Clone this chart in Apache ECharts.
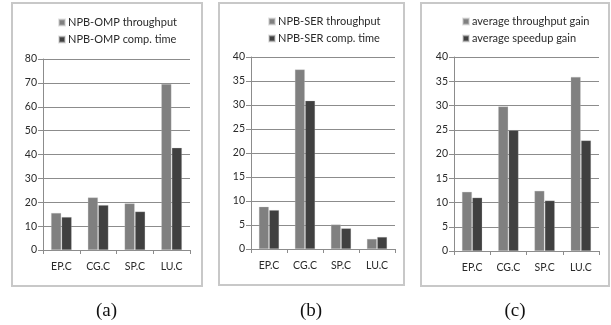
<!DOCTYPE html>
<html>
<head>
<meta charset="utf-8">
<script src="https://cdn.jsdelivr.net/npm/echarts@6/dist/echarts.min.js"></script>
<style>html,body{margin:0;padding:0;background:#fff;}#c{width:611px;height:325px;}</style>
</head>
<body>
<div id="c"></div>
<script>
const categories = ['EP.C', 'CG.C', 'SP.C', 'LU.C'];

const ompNames = ['NPB-OMP throughput', 'NPB-OMP comp. time'];
const ompThroughput = [15.5, 22.0, 19.5, 69.5];
const ompCompTime = [13.8, 18.8, 16.1, 42.8];

const serNames = ['NPB-SER throughput', 'NPB-SER comp. time'];
const serThroughput = [8.8, 37.4, 5.1, 2.1];
const serCompTime = [8.1, 30.9, 4.3, 2.5];

const avgNames = ['average throughput gain', 'average speedup gain'];
const avgThroughput = [12.2, 29.8, 12.4, 35.9];
const avgSpeedup = [11.0, 24.9, 10.4, 22.8];

const yMaxA = 80, yStepA = 10;
const yMaxB = 40, yStepB = 5;
const yMaxC = 40, yStepC = 5;
const captions = ['(a)', '(b)', '(c)'];

const LIGHT = '#808080', DARK = '#404040';
const FONT = 'Lato';
const TXT = '#2a2a2a';

const grids = [
  {left: 43, top: 59, width: 147, height: 191},
  {left: 251, top: 57, width: 144, height: 192},
  {left: 454, top: 57, width: 145, height: 194}
];
const legendPos = [{left: 53, top: 12}, {left: 263, top: 11}, {left: 457, top: 11}];
const frames = [[12, 3, 190, 283], [219, 3, 185, 282], [421, 3, 188, 283]];
const captionX = [106.5, 311, 515];

const chart = echarts.init(document.getElementById('c'), null, {renderer: 'canvas'});

function xAxis(i) {
  return {
    type: 'category', gridIndex: i, data: categories,
    axisLine: {show: true, lineStyle: {color: '#8c8c8c', width: 1}},
    axisTick: {show: true, length: 4, inside: false, lineStyle: {color: '#8c8c8c'}},
    axisLabel: {color: TXT, fontFamily: FONT, fontSize: 10.5, margin: 11}
  };
}
function yAxis(i, max, step) {
  return {
    type: 'value', gridIndex: i, min: 0, max: max, interval: step,
    axisLine: {show: true, lineStyle: {color: '#8c8c8c', width: 1}},
    axisTick: {show: true, length: 5, lineStyle: {color: '#8c8c8c'}},
    splitLine: {show: true, lineStyle: {color: '#8c8c8c', width: 1}},
    axisLabel: {color: TXT, fontFamily: FONT, fontSize: 10.5, margin: 6}
  };
}
function bar(name, data, i, color) {
  return {
    type: 'bar', name: name, data: data, xAxisIndex: i, yAxisIndex: i,
    barGap: '4%', barCategoryGap: '44%',
    itemStyle: {color: color, borderColor: 'rgba(200,200,200,0.5)', borderWidth: 0.5},
    emphasis: {disabled: true}
  };
}
function legend(i, names) {
  return {
    orient: 'vertical', left: legendPos[i].left, top: legendPos[i].top,
    data: names.map(n => ({name: n, icon: 'rect'})),
    itemWidth: 6, itemHeight: 6, itemGap: 6,
    textStyle: {color: TXT, fontFamily: FONT, fontSize: 11, padding: [0, 0, 0, -2]},
    selectedMode: false
  };
}

const graphic = [];
frames.forEach(f => graphic.push({
  type: 'rect', shape: {x: f[0], y: f[1], width: f[2], height: f[3]},
  style: {fill: 'none', stroke: '#c8c8c8', lineWidth: 2}, z: -1
}));
captions.forEach((c, i) => graphic.push({
  type: 'text', x: captionX[i], y: 311,
  style: {text: c, fill: '#111', font: '19px "Liberation Serif"', textAlign: 'center', textVerticalAlign: 'middle'}
}));

chart.setOption({
  animation: false,
  grid: grids,
  xAxis: [xAxis(0), xAxis(1), xAxis(2)],
  yAxis: [yAxis(0, yMaxA, yStepA), yAxis(1, yMaxB, yStepB), yAxis(2, yMaxC, yStepC)],
  legend: [legend(0, ompNames), legend(1, serNames), legend(2, avgNames)],
  series: [
    bar(ompNames[0], ompThroughput, 0, LIGHT),
    bar(ompNames[1], ompCompTime, 0, DARK),
    bar(serNames[0], serThroughput, 1, LIGHT),
    bar(serNames[1], serCompTime, 1, DARK),
    bar(avgNames[0], avgThroughput, 2, LIGHT),
    bar(avgNames[1], avgSpeedup, 2, DARK)
  ],
  graphic: graphic
});
</script>
</body>
</html>
